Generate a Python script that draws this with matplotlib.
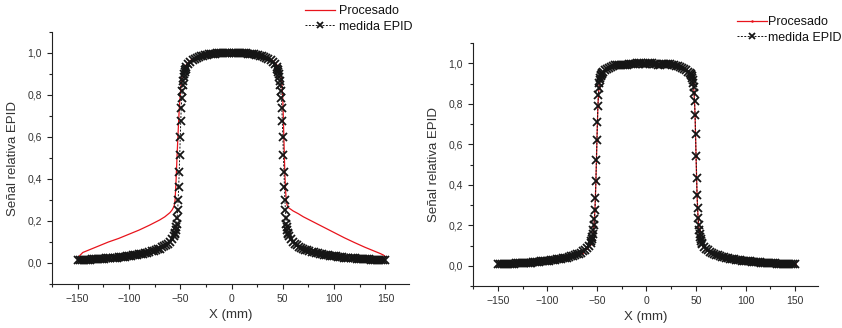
import numpy as np
import matplotlib
matplotlib.use('Agg')
import matplotlib.pyplot as plt
from matplotlib.ticker import MultipleLocator, FuncFormatter

plt.rcParams['font.family'] = ['Liberation Sans', 'DejaVu Sans']

# sample positions (mm) of the EPID profiles
x_tail_neg = np.arange(-150, -57, 2)
x_pen_neg = np.arange(-56, -44, 0.5)
x_plateau = np.arange(-44, 45, 2)
x_pen_pos = np.arange(44.5, 56.5, 0.5)
x_tail_pos = np.arange(58, 151, 2)

# --- left panel: medida EPID
epid1_tail_neg = [0.013, 0.013, 0.014, 0.014, 0.015, 0.015, 0.016, 0.017, 0.017, 0.018,
                  0.019, 0.019, 0.020, 0.021, 0.022, 0.022, 0.023, 0.024, 0.025, 0.026,
                  0.027, 0.028, 0.029, 0.030, 0.031, 0.033, 0.034, 0.036, 0.037, 0.039,
                  0.041, 0.043, 0.045, 0.047, 0.049, 0.052, 0.055, 0.058, 0.061, 0.065,
                  0.069, 0.074, 0.079, 0.085, 0.092, 0.101, 0.113]
epid1_pen_neg = [0.128, 0.136, 0.145, 0.156, 0.170, 0.188, 0.216, 0.253, 0.300, 0.360,
                 0.432, 0.515, 0.600, 0.677, 0.738, 0.784, 0.819, 0.846, 0.867, 0.884,
                 0.898, 0.909, 0.918, 0.926]
epid1_plateau = [0.932, 0.947, 0.958, 0.967, 0.973, 0.978, 0.982, 0.985, 0.988, 0.990,
                 0.992, 0.994, 0.995, 0.996, 0.997, 0.998, 0.998, 0.999, 0.999, 1.000,
                 1.000, 1.000, 1.000, 1.000, 1.000, 1.000, 0.999, 0.999, 0.998, 0.998,
                 0.997, 0.996, 0.995, 0.994, 0.992, 0.990, 0.988, 0.985, 0.982, 0.978,
                 0.973, 0.967, 0.958, 0.947, 0.932]
epid1_pen_pos = [0.926, 0.918, 0.909, 0.898, 0.884, 0.867, 0.846, 0.819, 0.784, 0.738,
                 0.677, 0.600, 0.515, 0.432, 0.360, 0.300, 0.253, 0.216, 0.188, 0.170,
                 0.156, 0.145, 0.136, 0.128]
epid1_tail_pos = [0.112, 0.100, 0.091, 0.084, 0.078, 0.073, 0.068, 0.064, 0.060, 0.057,
                  0.054, 0.051, 0.048, 0.046, 0.044, 0.042, 0.040, 0.038, 0.036, 0.035,
                  0.033, 0.032, 0.031, 0.030, 0.028, 0.027, 0.026, 0.025, 0.024, 0.023,
                  0.022, 0.022, 0.021, 0.020, 0.019, 0.019, 0.018, 0.017, 0.017, 0.016,
                  0.015, 0.015, 0.014, 0.014, 0.013, 0.013, 0.012]

# --- left panel: Procesado
proc1_x = [-150, -148, -145, -140, -130, -120, -110, -100, -90, -80,
           -70, -65, -60, -58, -56, -55, -54, -53, -52, -51,
           -50, -49, -48, -46, -44, -40, -30, -20, -10, 0,
           10, 20, 30, 40, 44, 46, 48, 49, 50, 51,
           52, 53, 54, 55, 58, 60, 65, 70, 80, 90,
           100, 110, 120, 130, 140, 145, 148, 150]
proc1_y = [0.02, 0.035, 0.05, 0.06, 0.08, 0.10, 0.117, 0.137, 0.157, 0.18,
           0.205, 0.22, 0.24, 0.252, 0.27, 0.30, 0.40, 0.52, 0.63, 0.73,
           0.80, 0.86, 0.90, 0.93, 0.945, 0.965, 0.988, 0.995, 0.999, 1.0,
           0.999, 0.995, 0.988, 0.965, 0.945, 0.93, 0.90, 0.86, 0.78, 0.60,
           0.42, 0.32, 0.28, 0.265, 0.255, 0.248, 0.235, 0.22, 0.195, 0.17,
           0.145, 0.12, 0.097, 0.075, 0.055, 0.045, 0.038, 0.03]

# --- right panel: medida EPID
epid2_tail_neg = [0.008, 0.008, 0.009, 0.009, 0.009, 0.010, 0.010, 0.011, 0.011, 0.012,
                  0.012, 0.013, 0.013, 0.014, 0.014, 0.015, 0.016, 0.016, 0.017, 0.018,
                  0.019, 0.020, 0.021, 0.022, 0.023, 0.024, 0.025, 0.026, 0.028, 0.029,
                  0.031, 0.032, 0.034, 0.036, 0.038, 0.040, 0.043, 0.046, 0.049, 0.052,
                  0.056, 0.060, 0.065, 0.071, 0.078, 0.087, 0.099]
epid2_pen_neg = [0.112, 0.120, 0.130, 0.142, 0.157, 0.176, 0.200, 0.232, 0.275, 0.335,
                 0.420, 0.520, 0.620, 0.710, 0.790, 0.845, 0.880, 0.902, 0.917, 0.928,
                 0.936, 0.943, 0.948, 0.953]
epid2_plateau = [0.957, 0.965, 0.972, 0.978, 0.983, 0.987, 0.990, 0.992, 0.993, 0.991,
                 0.989, 0.990, 0.993, 0.995, 0.996, 0.997, 0.998, 1.000, 1.000, 0.999,
                 0.997, 0.996, 0.997, 0.999, 1.000, 1.000, 0.998, 0.995, 0.993, 0.992,
                 0.994, 0.996, 0.997, 0.996, 0.994, 0.992, 0.990, 0.988, 0.986, 0.983,
                 0.979, 0.974, 0.967, 0.959, 0.950]
epid2_pen_pos = [0.946, 0.941, 0.935, 0.927, 0.917, 0.903, 0.883, 0.855, 0.812, 0.745,
                 0.650, 0.540, 0.435, 0.350, 0.285, 0.238, 0.203, 0.177, 0.158, 0.143,
                 0.131, 0.121, 0.113, 0.106]
epid2_tail_pos = [0.094, 0.084, 0.076, 0.070, 0.064, 0.059, 0.055, 0.051, 0.048, 0.045,
                  0.042, 0.040, 0.037, 0.035, 0.033, 0.031, 0.030, 0.028, 0.027, 0.025,
                  0.024, 0.023, 0.022, 0.021, 0.020, 0.019, 0.018, 0.017, 0.017, 0.016,
                  0.015, 0.015, 0.014, 0.013, 0.013, 0.012, 0.012, 0.011, 0.011, 0.010,
                  0.010, 0.010, 0.009, 0.009, 0.009, 0.008, 0.008]

# --- right panel: Procesado
proc2_x = [-150, -130, -110, -90, -75, -65, -60, -57, -55, -54,
           -53, -52, -51, -50, -49, -48, -47, -45, -40, -30,
           -20, -10, 0, 10, 20, 30, 40, 45, 47, 48,
           49, 50, 51, 52, 53, 55, 57, 60, 65, 75,
           90, 110, 130, 150]
proc2_y = [0.008, 0.012, 0.019, 0.031, 0.047, 0.065, 0.087, 0.105, 0.13, 0.157,
           0.2, 0.275, 0.42, 0.62, 0.79, 0.88, 0.917, 0.948, 0.972, 0.992,
           0.993, 1.0, 0.997, 0.995, 0.997, 0.988, 0.967, 0.941, 0.903, 0.855,
           0.745, 0.54, 0.35, 0.238, 0.177, 0.121, 0.099, 0.084, 0.067, 0.046,
           0.030, 0.018, 0.012, 0.008]

x_epid = np.concatenate([x_tail_neg, x_pen_neg, x_plateau, x_pen_pos, x_tail_pos])
epid1 = np.concatenate([epid1_tail_neg, epid1_pen_neg, epid1_plateau, epid1_pen_pos, epid1_tail_pos])
epid2 = np.concatenate([epid2_tail_neg, epid2_pen_neg, epid2_plateau, epid2_pen_pos, epid2_tail_pos])

txt = '#333333'
fig = plt.figure(figsize=(8.42, 3.28), dpi=100)
ax1 = fig.add_axes([52/842, 1-284/328, 357/842, 252/328])
ax2 = fig.add_axes([473/842, 1-286/328, 345/842, 243/328])

comma = FuncFormatter(lambda v, p: ('%.1f' % v).replace('.', ','))
epid_style = dict(color='#151515', linestyle=(0, (2, 1.5)), linewidth=0.7,
                  marker='x', markersize=5.5, markeredgewidth=1.3)

ax1.plot(proc1_x, proc1_y, color='#e8141c', linewidth=0.9, label='Procesado')
ax1.plot(x_epid, epid1, label='medida EPID', **epid_style)

ax2.plot(proc2_x, proc2_y, color='#e8141c', linewidth=0.9, marker='.', markersize=2,
         label='Procesado')
ax2.plot(x_epid, epid2, label='medida EPID', **epid_style)

for ax in (ax1, ax2):
    ax.set_xlim(-175, 173)
    ax.set_ylim(-0.1, 1.1)
    ax.xaxis.set_major_locator(MultipleLocator(50))
    ax.xaxis.set_minor_locator(MultipleLocator(25))
    ax.yaxis.set_major_locator(MultipleLocator(0.2))
    ax.yaxis.set_minor_locator(MultipleLocator(0.1))
    ax.yaxis.set_major_formatter(comma)
    ax.spines['top'].set_visible(False)
    ax.spines['right'].set_visible(False)
    for s in ('left', 'bottom'):
        ax.spines[s].set_color('#222222')
        ax.spines[s].set_linewidth(0.8)
    ax.tick_params(which='major', direction='out', length=3.6, width=0.8,
                   labelsize=7.5, labelcolor=txt, color='#222222')
    ax.tick_params(which='minor', direction='out', length=2, width=0.8, color='#222222')
    ax.set_xlabel('X (mm)', fontsize=9.5, color=txt, labelpad=4)
    ax.set_ylabel('Señal relativa EPID', fontsize=9.5, color=txt, labelpad=6)

leg_kw = dict(loc='upper left', bbox_transform=fig.transFigure, frameon=False,
              fontsize=9, handlelength=2.4, labelspacing=0.3, borderpad=0,
              borderaxespad=0, labelcolor='#111111', markerscale=0.8)
ax1.legend(bbox_to_anchor=(305/842, 1-5/328), handletextpad=0.3, **leg_kw)
ax2.legend(bbox_to_anchor=(737/842, 1-16/328), handletextpad=0.1, **leg_kw)

fig.savefig('out.png', dpi=100)
